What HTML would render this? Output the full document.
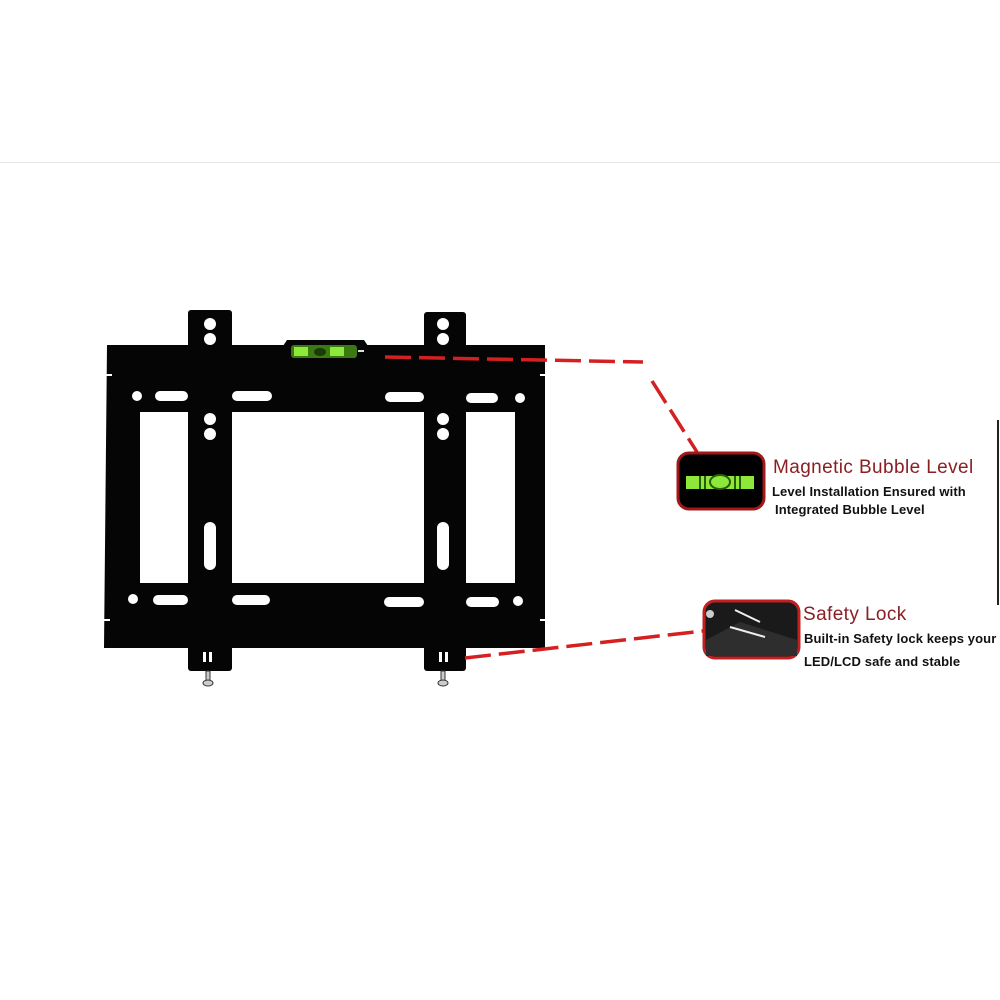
<!DOCTYPE html>
<html><head><meta charset="utf-8"><style>
html,body{margin:0;padding:0;background:#fff;}
svg{display:block;}
</style></head><body>
<svg width="1000" height="1000" viewBox="0 0 1000 1000" xmlns="http://www.w3.org/2000/svg">
<rect width="1000" height="1000" fill="#fff"/>
<rect x="0" y="162" width="1000" height="1" fill="#e6e6e6"/>
<rect x="997" y="420" width="2" height="185" fill="#222"/>
<path d="M107 345 H545 V648 H104 Z" fill="#050505"/>
<rect x="140" y="412" width="375" height="171" fill="#fff"/>
<rect x="104" y="374" width="8" height="2" fill="#fff"/>
<rect x="540" y="374" width="6" height="2" fill="#fff"/>
<rect x="104" y="619" width="6" height="2" fill="#fff"/>
<rect x="540" y="619" width="6" height="2" fill="#fff"/>
<rect x="188" y="310" width="44" height="361" rx="3" fill="#050505"/>
<rect x="424" y="312" width="42" height="359" rx="3" fill="#050505"/>
<g fill="#fff">
<circle cx="210" cy="324" r="6"/><circle cx="210" cy="339" r="6"/>
<circle cx="443" cy="324" r="6"/><circle cx="443" cy="339" r="6"/>
<circle cx="210" cy="419" r="6"/><circle cx="210" cy="434" r="6"/>
<circle cx="443" cy="419" r="6"/><circle cx="443" cy="434" r="6"/>
<rect x="204" y="522" width="12" height="48" rx="6"/>
<rect x="437" y="522" width="12" height="48" rx="6"/>
<circle cx="137" cy="396" r="5"/><circle cx="520" cy="398" r="5"/>
<circle cx="133" cy="599" r="5"/><circle cx="518" cy="601" r="5"/>
<rect x="155" y="391" width="33" height="10" rx="5"/>
<rect x="232" y="391" width="40" height="10" rx="5"/>
<rect x="385" y="392" width="39" height="10" rx="5"/>
<rect x="466" y="393" width="32" height="10" rx="5"/>
<rect x="153" y="595" width="35" height="10" rx="5"/>
<rect x="232" y="595" width="38" height="10" rx="5"/>
<rect x="384" y="597" width="40" height="10" rx="5"/>
<rect x="466" y="597" width="33" height="10" rx="5"/>
<rect x="203" y="652" width="3" height="10"/><rect x="209" y="652" width="3" height="10"/>
<rect x="439" y="652" width="3" height="10"/><rect x="445" y="652" width="3" height="10"/>
</g>
<g fill="#ccc" stroke="#333" stroke-width="1">
<rect x="206" y="671" width="4" height="10"/><ellipse cx="208" cy="683" rx="5" ry="3"/>
<rect x="441" y="671" width="4" height="10"/><ellipse cx="443" cy="683" rx="5" ry="3"/>
</g>
<path d="M287 340 H364 L368 346 V360 H283 V346 Z" fill="#050505"/>
<rect x="291" y="345" width="66" height="13" rx="3" fill="#3a7a10"/>
<rect x="294" y="347" width="14" height="9" fill="#8ee83a"/>
<rect x="330" y="347" width="14" height="9" fill="#8ee83a"/>
<ellipse cx="320" cy="352" rx="6" ry="4" fill="#1a3a08"/>
<rect x="358" y="350" width="6" height="2" fill="#ddd"/>
<g stroke="#d42020" stroke-width="3.5" fill="none" stroke-dasharray="26,8">
<path d="M385 357 L643 362"/>
<path d="M652 381 L697 452"/>
<path d="M465 658 L703 631"/>
</g>
<rect x="678" y="453" width="86" height="56" rx="11" fill="#000" stroke="#a01818" stroke-width="3"/>
<rect x="686" y="476" width="68" height="13" fill="#8ee83a"/>
<rect x="699" y="476" width="2" height="13" fill="#2a5a08"/><rect x="704" y="476" width="2" height="13" fill="#2a5a08"/>
<rect x="734" y="476" width="2" height="13" fill="#2a5a08"/><rect x="739" y="476" width="2" height="13" fill="#2a5a08"/>
<ellipse cx="720" cy="482" rx="10" ry="7" fill="none" stroke="#2a5a08" stroke-width="2"/>
<rect x="704" y="601" width="95" height="57" rx="11" fill="#1a1a1a" stroke="#c02020" stroke-width="3"/>
<path d="M706 640 L740 622 L797 640 V656 H706 Z" fill="#2e2e2e"/>
<path d="M735 610 L760 622 M730 627 L765 637" stroke="#eee" stroke-width="2"/>
<circle cx="710" cy="614" r="4" fill="#ccc"/>
<g font-family="Liberation Sans, sans-serif">
<text x="773" y="473" font-size="19" letter-spacing="0.4" fill="#8a1f24">Magnetic Bubble Level</text>
<text x="772" y="496" font-size="13" letter-spacing="0.1" font-weight="bold" fill="#111">Level Installation Ensured with</text>
<text x="775" y="514" font-size="13" letter-spacing="0.1" font-weight="bold" fill="#111">Integrated Bubble Level</text>
<text x="803" y="620" font-size="19" letter-spacing="0.4" fill="#8a1f24">Safety Lock</text>
<text x="804" y="643" font-size="13" letter-spacing="0.1" font-weight="bold" fill="#111">Built-in Safety lock keeps your</text>
<text x="804" y="666" font-size="13" letter-spacing="0.1" font-weight="bold" fill="#111">LED/LCD safe and stable</text>
</g>
</svg>
</body></html>
